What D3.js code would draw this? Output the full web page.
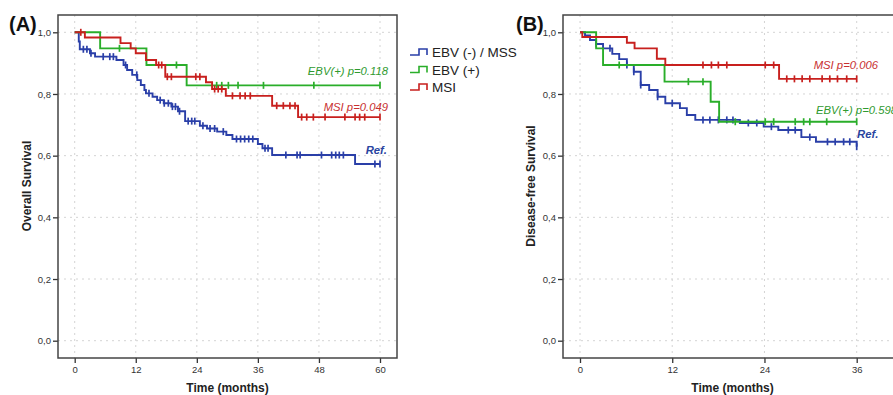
<!DOCTYPE html>
<html>
<head>
<meta charset="utf-8">
<script src="https://cdn.jsdelivr.net/npm/d3@7"></script>
<style>
    body { margin: 0; background: #fff; }
    svg { display: block; font-family: Arial, "Liberation Sans", sans-serif; }
</style>
</head>
<body>
<svg id="chart" width="893" height="395"></svg>
<script>
// ---- Panel A : overall survival ----
const osMssTime = [0, 0.8, 1.0, 3.0, 4.0, 8.2, 9.6, 10.3, 11.3, 12.3, 13.0, 13.7, 14.0, 15.3, 16.2, 17.5, 19.0, 20.3, 21.7, 24.6, 26.0, 28.0, 29.8, 31.0, 36.0, 36.9, 38.8, 55.1];
const osMssSurv = [1, 0.97, 0.945, 0.932, 0.921, 0.910, 0.894, 0.878, 0.862, 0.845, 0.829, 0.813, 0.802, 0.791, 0.780, 0.770, 0.759, 0.744, 0.712, 0.697, 0.688, 0.678, 0.667, 0.654, 0.638, 0.624, 0.602, 0.573];
const osMssCens = [1.7, 2.4, 3.2, 5.6, 6.9, 7.6, 10.0, 12.2, 14.6, 16.8, 17.6, 18.4, 19.2, 19.8, 20.6, 22.3, 23.0, 23.6, 25.2, 26.6, 27.5, 29.2, 31.8, 32.6, 33.4, 34.2, 35.0, 37.4, 38.0, 41.5, 43.7, 44.3, 48.5, 50.5, 51.3, 52.0, 52.8, 59.0, 60];

const osEbvTime = [0, 5.0, 14.1, 22.0];
const osEbvSurv = [1, 0.948, 0.894, 0.828];
const osEbvCens = [8.8, 20.0, 27.9, 28.9, 30.2, 32.1, 37.1, 47.0, 60];

const osMsiTime = [0, 2.0, 9.0, 11.0, 12.0, 14.0, 16.0, 17.8, 25.8, 27.0, 29.7, 38.8, 43.9];
const osMsiSurv = [1, 0.983, 0.965, 0.948, 0.932, 0.910, 0.894, 0.856, 0.838, 0.816, 0.794, 0.762, 0.725];
const osMsiCens = [1.2, 16.5, 17.1, 18.2, 19.0, 23.8, 24.6, 27.5, 28.2, 28.9, 31.0, 32.5, 33.5, 34.5, 39.7, 41.0, 42.3, 43.3, 44.6, 45.6, 46.9, 49.2, 53.1, 55.1, 56.0, 57.0, 60];

// ---- Panel B : disease-free survival ----
const dfsMssTime = [0, 0.65, 1.3, 2.1, 3.0, 4.2, 5.1, 6.1, 7.0, 7.9, 9.0, 10.1, 11.1, 13.0, 13.9, 15.0, 20.8, 23.9, 25.8, 28.8, 30.7, 36.0];
const dfsMssSurv = [1, 0.99, 0.975, 0.962, 0.948, 0.930, 0.913, 0.894, 0.872, 0.829, 0.813, 0.791, 0.770, 0.754, 0.732, 0.716, 0.706, 0.694, 0.683, 0.660, 0.645, 0.629];
const dfsMssCens = [2.1, 3.9, 6.1, 7.0, 7.9, 10.1, 12.0, 16.0, 16.9, 18.0, 19.1, 19.9, 21.9, 23.0, 24.9, 27.1, 28.0, 29.9, 32.2, 33.2, 34.3, 35.1, 36];

const dfsEbvTime = [0, 2.1, 3.0, 11.0, 17.0, 18.1];
const dfsEbvSurv = [1, 0.948, 0.894, 0.840, 0.775, 0.710];
const dfsEbvCens = [5.1, 14.1, 16.0, 20.2, 24.1, 25.2, 28.0, 29.1, 29.9, 32.1, 36];

const dfsMsiTime = [0, 0.3, 6.1, 7.1, 10.0, 11.1, 25.9];
const dfsMsiSurv = [1, 0.985, 0.966, 0.948, 0.914, 0.894, 0.849];
const dfsMsiCens = [16.0, 17.1, 18.0, 19.1, 24.1, 25.2, 26.9, 27.9, 28.9, 29.9, 31.5, 32.5, 33.5, 34.7, 36];

const groupNames = ["EBV (-) / MSS", "EBV (+)", "MSI"];
const groupColors = ["#2a3fa8", "#2aae2a", "#c8201e"];
const yTicks = [0, 0.2, 0.4, 0.6, 0.8, 1.0];

const svg = d3.select("#chart");
const commaFmt = d3.formatLocale({decimal: ",", thousands: ".", grouping: [3], currency: ["", ""]}).format(".1f");

function kmSeries(time, surv, cens) {
    return {points: time.map((t, i) => [t, surv[i]]), cens: cens};
}

function drawPanel(p) {
    const x = d3.scaleLinear().domain(p.xDomain).range(p.xRange),
        y = d3.scaleLinear().domain([0, 1]).range([340.7, 32.3]);

    const g = svg.append("g").attr("class", "panel");

    // dotted grid
    g.append("g").selectAll("line.hgrid")
        .data(yTicks)
        .enter().append("line")
        .attr("x1", p.frame[0]).attr("x2", p.frame[1])
        .attr("y1", d => y(d)).attr("y2", d => y(d))
        .attr("stroke", "#d4d4d4").attr("stroke-dasharray", "2,4");
    g.append("g").selectAll("line.vgrid")
        .data(p.xTicks)
        .enter().append("line")
        .attr("x1", d => x(d)).attr("x2", d => x(d))
        .attr("y1", 15).attr("y2", 358)
        .attr("stroke", "#d4d4d4").attr("stroke-dasharray", "2,4");

    // axes
    const yAxis = d3.axisLeft(y).tickValues(yTicks).tickFormat(commaFmt).tickSize(5).tickPadding(2);
    const xAxis = d3.axisBottom(x).tickValues(p.xTicks).tickSize(5).tickPadding(3);

    g.append("g")
        .attr("transform", "translate(" + p.frame[0] + ",0)")
        .call(yAxis)
        .call(a => a.select(".domain").remove());
    g.append("g")
        .attr("transform", "translate(0,358)")
        .call(xAxis)
        .call(a => a.select(".domain").remove());
    g.selectAll(".tick line").attr("stroke", "#333").attr("stroke-width", 1.3);
    g.selectAll(".tick text").attr("fill", "#333").style("font-size", "9.5px");

    g.append("rect")
        .attr("x", p.frame[0]).attr("y", 15)
        .attr("width", p.frame[1] - p.frame[0]).attr("height", 343)
        .attr("fill", "none").attr("stroke", "#444").attr("stroke-width", 1.5);

    // curves
    const line = d3.line().x(d => x(d[0])).y(d => y(d[1])).curve(d3.curveStepAfter);
    p.series.forEach((s, i) => {
        const last = d3.max([s.points[s.points.length - 1][0]].concat(s.cens));
        const pts = s.points.concat([[last, s.points[s.points.length - 1][1]]]);
        const bis = d3.bisector(d => d[0]).right;
        g.append("path")
            .datum(pts)
            .attr("d", line)
            .attr("fill", "none")
            .attr("stroke", groupColors[i])
            .attr("stroke-width", 1.9);
        g.append("g").selectAll("line")
            .data(s.cens)
            .enter().append("line")
            .attr("x1", d => x(d)).attr("x2", d => x(d))
            .attr("y1", d => y(s.points[bis(s.points, d) - 1][1]) - 3.5)
            .attr("y2", d => y(s.points[bis(s.points, d) - 1][1]) + 3.5)
            .attr("stroke", groupColors[i])
            .attr("stroke-width", 1.7);
    });

    // p-value labels
    p.labels.forEach(l => {
        g.append("text")
            .attr("x", l.x).attr("y", l.y)
            .attr("text-anchor", l.anchor)
            .attr("fill", l.color)
            .style("font-size", "11.3px")
            .style("font-style", "italic")
            .style("font-weight", l.bold ? "bold" : "normal")
            .text(l.text);
    });

    g.append("text")
        .attr("x", (p.frame[0] + Math.min(p.frame[1], 397 + p.frame[0] - 58)) / 2).attr("y", 392)
        .attr("text-anchor", "middle")
        .style("font-size", "12px").style("font-weight", "bold").attr("fill", "#222")
        .text("Time (months)");
    g.append("text")
        .attr("transform", "translate(" + p.yLabelX + ",186) rotate(-90)")
        .attr("text-anchor", "middle")
        .style("font-size", "12px").style("font-weight", "bold").attr("fill", "#222")
        .text(p.yLabel);
    g.append("text")
        .attr("x", p.tagX).attr("y", 31)
        .style("font-size", "20px").style("font-weight", "bold").attr("fill", "#111")
        .text(p.tag);
}

drawPanel({
    tag: "(A)", tagX: 9, yLabel: "Overall Survival", yLabelX: 31,
    frame: [58, 397], xDomain: [0, 60], xRange: [74.7, 380], xTicks: [0, 12, 24, 36, 48, 60],
    series: [kmSeries(osMssTime, osMssSurv, osMssCens), kmSeries(osEbvTime, osEbvSurv, osEbvCens), kmSeries(osMsiTime, osMsiSurv, osMsiCens)],
    labels: [
        {text: "EBV(+) p=0.118", x: 388, y: 75, anchor: "end", color: "#2f9a2f"},
        {text: "MSI p=0.049", x: 388, y: 111, anchor: "end", color: "#c83030"},
        {text: "Ref.", x: 387, y: 154, anchor: "end", color: "#2a45a0", bold: true}
    ]
});

drawPanel({
    tag: "(B)", tagX: 516, yLabel: "Disease-free Survival", yLabelX: 535,
    frame: [563, 905], xDomain: [0, 36], xRange: [580, 856.7], xTicks: [0, 12, 24, 36],
    series: [kmSeries(dfsMssTime, dfsMssSurv, dfsMssCens), kmSeries(dfsEbvTime, dfsEbvSurv, dfsEbvCens), kmSeries(dfsMsiTime, dfsMsiSurv, dfsMsiCens)],
    labels: [
        {text: "MSI p=0.006", x: 878, y: 69, anchor: "end", color: "#c83030"},
        {text: "EBV(+) p=0.598", x: 816, y: 114, anchor: "start", color: "#2f9a2f"},
        {text: "Ref.", x: 857, y: 138, anchor: "start", color: "#2a45a0", bold: true}
    ]
});

// legend
const legend = svg.append("g").attr("transform", "translate(410,0)");
legend.selectAll("g")
    .data(groupNames)
    .enter().append("g")
    .attr("transform", (d, i) => "translate(0," + (52 + i * 17.5) + ")")
    .each(function (d, i) {
        const row = d3.select(this);
        row.append("path")
            .attr("d", "M0,3H9V-3H17V3")
            .attr("fill", "none")
            .attr("stroke", groupColors[i])
            .attr("stroke-width", 1.6);
        row.append("text")
            .attr("x", 22).attr("y", 5)
            .style("font-size", "13.5px").attr("fill", "#222")
            .text(d);
    });
</script>
</body>
</html>
